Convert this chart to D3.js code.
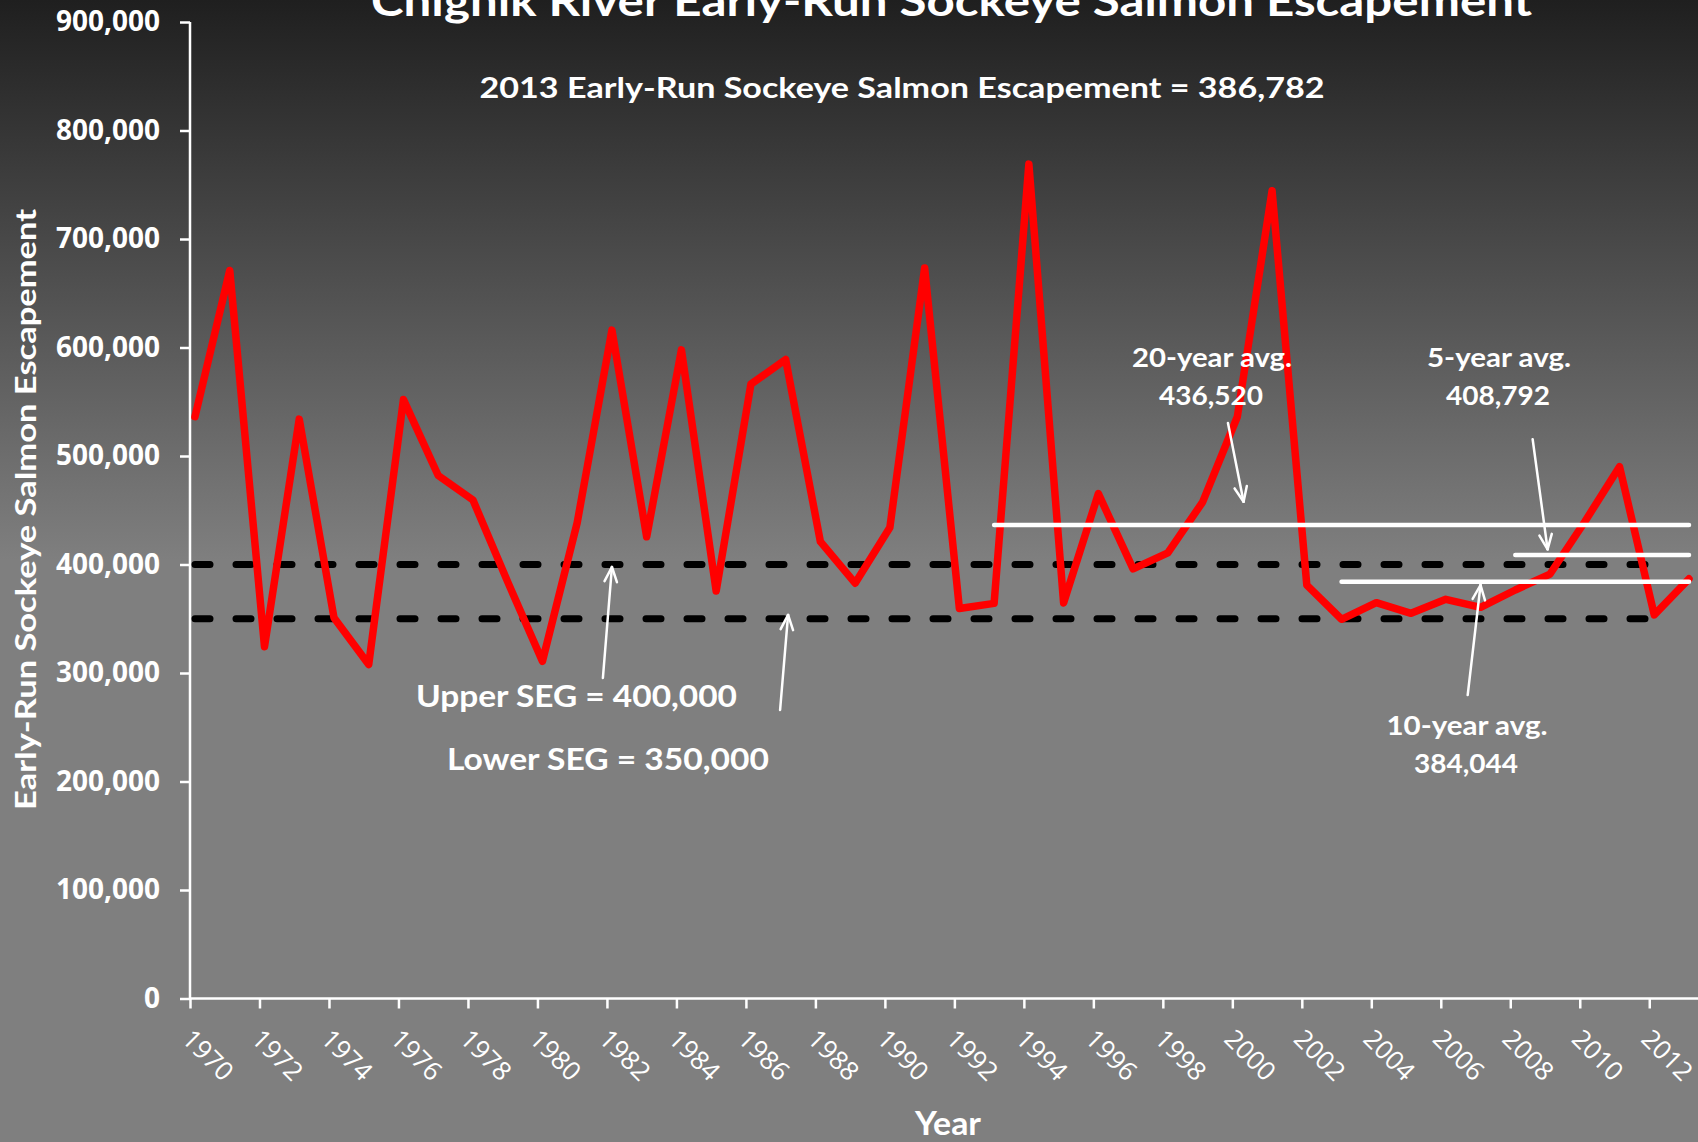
<!DOCTYPE html>
<html lang="en">
<head>
<meta charset="UTF-8">
<title>Chignik River Early-Run Sockeye Salmon Escapement</title>
<script src="https://cdn.jsdelivr.net/npm/d3@7"></script>
<style>
    html, body { margin: 0; padding: 0; background: #7f7f7f; }
    svg { display: block; }
</style>
</head>
<body>
<svg id="chart"></svg>
<script>
var width = 1698, height = 1142;

// data
var years = [1970, 1971, 1972, 1973, 1974, 1975, 1976, 1977, 1978, 1979,
             1980, 1981, 1982, 1983, 1984, 1985, 1986, 1987, 1988, 1989,
             1990, 1991, 1992, 1993, 1994, 1995, 1996, 1997, 1998, 1999,
             2000, 2001, 2002, 2003, 2004, 2005, 2006, 2007, 2008, 2009,
             2010, 2011, 2012, 2013];
var escapement = [536200, 671000, 324200, 534000, 351000, 307800, 552000, 482000, 459400, 384000,
                  310800, 438500, 616000, 425500, 597800, 375500, 566200, 589000, 421000, 382800,
                  434200, 673300, 359500, 364200, 769000, 364600, 465300, 396000, 410800, 457500,
                  536200, 744500, 381000, 349500, 364800, 355000, 367900, 360500, 376500, 391200,
                  439400, 490200, 353500, 386782];
var xLabels = [1970, 1972, 1974, 1976, 1978, 1980, 1982, 1984, 1986, 1988, 1990,
               1992, 1994, 1996, 1998, 2000, 2002, 2004, 2006, 2008, 2010, 2012];
var yTicks = [0, 100000, 200000, 300000, 400000, 500000, 600000, 700000, 800000, 900000];

var segValues = [400000, 350000];
var segLabels = ["Upper SEG = 400,000", "Lower SEG = 350,000"];
var segRange = [1970, 2012.4];

var avgNames = ["20-year avg.", "10-year avg.", "5-year avg."];
var avgValues = [436520, 384044, 408792];
var avgStart = [1993, 2003, 2008];
var avgEnd = 2013;

// arrows as [year, value] tail -> head
var arrowTails = [[1981.74, 295400], [1986.84, 265900], [1999.73, 530400], [2006.63, 279700], [2008.50, 515400]];
var arrowHeads = [[1982.0, 397700], [1987.07, 353500], [2000.18, 457900], [2007.0, 381100], [2008.93, 414000]];

var svg = d3.select("#chart").attr("width", width).attr("height", height);

// background gradient
var grad = svg.append("defs").append("linearGradient")
    .attr("id", "bg").attr("x1", 0).attr("y1", 0).attr("x2", 0).attr("y2", 1);
grad.append("stop").attr("offset", 0).attr("stop-color", "#1f1f1f");
grad.append("stop").attr("offset", 0.49).attr("stop-color", "#7f7f7f");
grad.append("stop").attr("offset", 1).attr("stop-color", "#7f7f7f");
svg.append("rect").attr("width", width).attr("height", height).attr("fill", "url(#bg)");

var x = d3.scaleLinear().domain([1970, 2013]).range([195, 1689]);
var xTick = d3.scaleLinear().domain([1970, 2013]).range([190, 1684]);
var y = d3.scaleLinear().domain([0, 900000]).range([998.5, 22]);

var boldFont = "Lato, 'Open Sans', sans-serif";
var tickFont = "'Open Sans', 'DejaVu Sans', sans-serif";

// y axis
var yAxis = d3.axisLeft(y).tickValues(yTicks).tickSize(10).tickPadding(20)
    .tickFormat(d3.format(","));
var gy = svg.append("g").attr("transform", "translate(" + xTick(1970) + ",0)").call(yAxis);
gy.select(".domain").remove();
gy.selectAll(".tick line").attr("stroke", "#fff").attr("stroke-width", 2.5);
gy.selectAll(".tick text").attr("fill", "#fff")
    .style("font-family", tickFont).style("font-weight", 700).style("font-size", "28px");
svg.append("line")
    .attr("x1", xTick(1970)).attr("x2", xTick(1970))
    .attr("y1", y(0)).attr("y2", y(900000))
    .attr("stroke", "#fff").attr("stroke-width", 2.5);

// x axis
var xAxis = d3.axisBottom(xTick).tickValues(xLabels).tickSize(10).tickFormat(d3.format("d"));
var gx = svg.append("g").attr("transform", "translate(0," + y(0) + ")").call(xAxis);
gx.select(".domain").remove();
gx.selectAll(".tick line").attr("stroke", "#fff").attr("stroke-width", 2.5);
gx.selectAll(".tick text").attr("fill", "#fff")
    .style("font-family", tickFont).style("font-weight", 500).style("font-size", "26px")
    .attr("text-anchor", "start")
    .attr("transform", "translate(-10,42) rotate(45)")
    .attr("y", 0).attr("dy", 0);
svg.append("line")
    .attr("x1", xTick(1970)).attr("x2", width)
    .attr("y1", y(0)).attr("y2", y(0))
    .attr("stroke", "#fff").attr("stroke-width", 2.5);

// SEG dashed lines
svg.selectAll("line.seg").data(segValues).enter().append("line")
    .attr("class", "seg")
    .attr("x1", x(segRange[0])).attr("x2", x(segRange[1]))
    .attr("y1", function (d) { return y(d); })
    .attr("y2", function (d) { return y(d); })
    .attr("stroke", "#000").attr("stroke-width", 7)
    .attr("stroke-linecap", "round").attr("stroke-dasharray", "15 26");

// escapement line
var line = d3.line()
    .x(function (d, i) { return x(years[i]); })
    .y(function (d) { return y(d); });
svg.append("path").datum(escapement)
    .attr("d", line)
    .attr("fill", "none").attr("stroke", "#ff0000").attr("stroke-width", 7.5)
    .attr("stroke-linejoin", "round")
    .attr("stroke-linecap", "round");

// average lines
svg.selectAll("line.avg").data(avgValues).enter().append("line")
    .attr("class", "avg")
    .attr("x1", function (d, i) { return x(avgStart[i]); })
    .attr("x2", x(avgEnd))
    .attr("y1", function (d) { return y(d); })
    .attr("y2", function (d) { return y(d); })
    .attr("stroke", "#fff").attr("stroke-width", 4.5).attr("stroke-linecap", "round");

// arrows
arrowTails.forEach(function (t, i) {
    var h = arrowHeads[i];
    var x1 = x(t[0]), y1 = y(t[1]), x2 = x(h[0]), y2 = y(h[1]);
    var ang = Math.atan2(y2 - y1, x2 - x1);
    var g = svg.append("g").attr("stroke", "#fff").attr("stroke-width", 2.5)
        .attr("fill", "none").attr("stroke-linecap", "round");
    g.append("line").attr("x1", x1).attr("y1", y1).attr("x2", x2).attr("y2", y2);
    [-0.4, 0.4].forEach(function (a) {
        g.append("line").attr("x1", x2).attr("y1", y2)
            .attr("x2", x2 - 16 * Math.cos(ang + a))
            .attr("y2", y2 - 16 * Math.sin(ang + a));
    });
});

function label(txt, cx, by, size, len) {
    return svg.append("text")
        .attr("x", cx).attr("y", by)
        .attr("text-anchor", "middle")
        .attr("fill", "#fff")
        .style("font-family", boldFont).style("font-weight", 700)
        .style("font-size", size + "px")
        .attr("textLength", len).attr("lengthAdjust", "spacingAndGlyphs")
        .text(txt);
}

// titles
label("Chignik River Early-Run Sockeye Salmon Escapement", 951.5, 16, 42, 1161);
label("2013 Early-Run Sockeye Salmon Escapement = " + d3.format(",")(escapement[escapement.length - 1]), 902, 98, 29, 845);
label("Year", 948, 1135, 32, 66);
label("Early-Run Sockeye Salmon Escapement", 0, 0, 28, 601)
    .attr("transform", "translate(36,509.5) rotate(-90)");

// SEG labels
label(segLabels[0], 576.5, 707, 30, 321);
label(segLabels[1], 608, 770, 30, 322);

// average labels
var avgLabelX = [1212, 1467, 1499];
var avgLabelY = [367, 735, 367];
var avgLabelLen = [160, 161, 144];
avgNames.forEach(function (n, i) {
    label(n, avgLabelX[i], avgLabelY[i], 26, avgLabelLen[i]);
    label(d3.format(",")(avgValues[i]), avgLabelX[i] - 1, avgLabelY[i] + 38, 26, 104);
});
</script>
</body>
</html>
